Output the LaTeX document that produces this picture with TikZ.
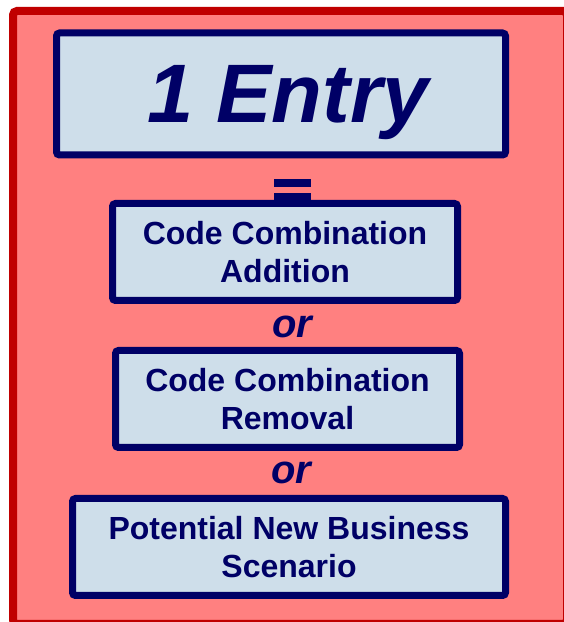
\documentclass[tikz,border=0pt]{standalone}
\usepackage{fontspec}
\setmainfont{Liberation Sans}
\usepackage{tikz}
\definecolor{framered}{RGB}{192,0,0}
\definecolor{framefill}{RGB}{255,128,128}
\definecolor{navy}{RGB}{0,0,102}
\definecolor{boxfill}{RGB}{206,222,234}

\begin{document}
\begin{tikzpicture}[x=1pt,y=1pt,
	entrybox/.style={draw=navy, fill=boxfill, line width=7pt, rounded corners=3pt,
		text=navy, font=\bfseries\fontsize{32}{38}\selectfont, align=center,
		minimum height=97pt, inner sep=0pt},
	ortext/.style={text=navy, font=\bfseries\itshape\fontsize{40}{40}\selectfont, anchor=base, inner sep=0pt}]
	\useasboundingbox (0,0) rectangle (564,622);
	\clip (0,0) rectangle (564,622);
	\draw[framered, fill=framefill, line width=8pt, rounded corners=4pt] (13,611) rectangle (567,-2);
	% boxes
	\node[entrybox, minimum width=449pt, minimum height=122pt, text depth=0pt, font=\bfseries\itshape\fontsize{83}{83}\selectfont] (entry) at (281,528) {\hspace*{14pt}1 Entry};
	\node[entrybox, minimum width=345pt] (addition) at (285,370) {Code Combination\\Addition};
	\node[entrybox, minimum width=344pt] (removal) at (287.5,223) {Code Combination\\Removal};
	\node[entrybox, minimum width=433pt] (scenario) at (289,75) {Potential New Business\\Scenario};
	% equals sign
	\foreach \y in {435,421}{
		\fill[navy] (274,\y) rectangle (311,\y+8);}
	% or
	\node[ortext] (or1) at (292,284) {or};
	\node[ortext] (or2) at (291,138) {or};
\end{tikzpicture}
\end{document}
